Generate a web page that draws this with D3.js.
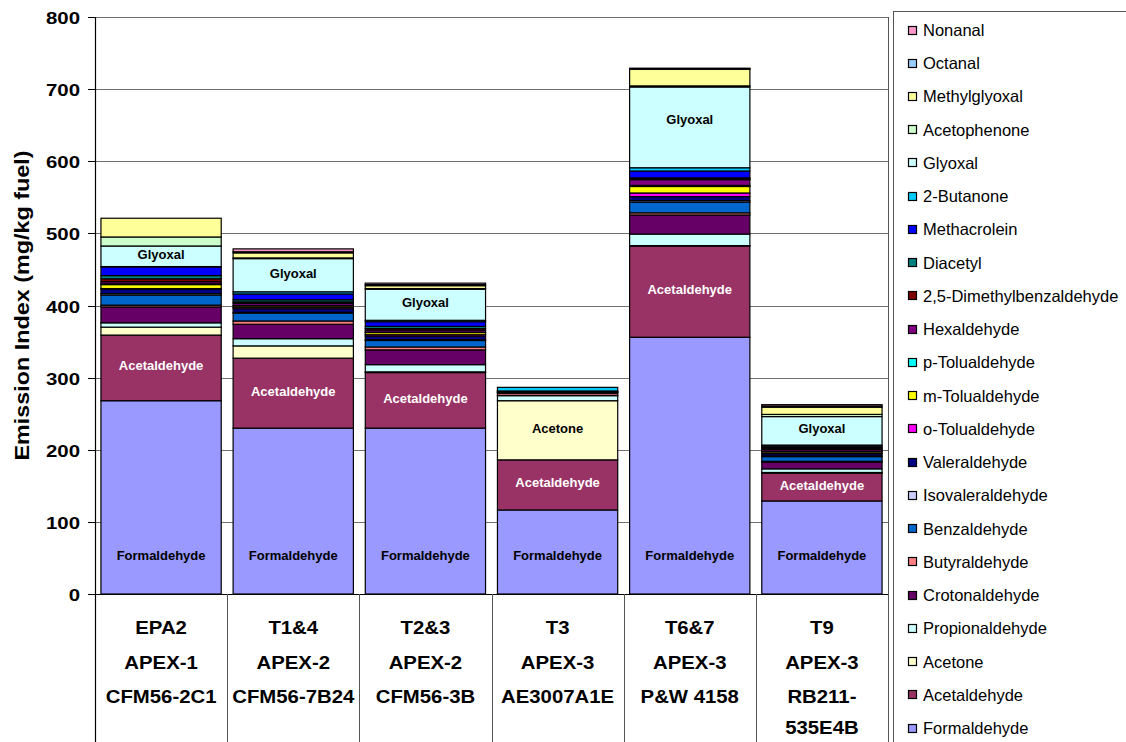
<!DOCTYPE html>
<html>
<head>
<meta charset="utf-8">
<script src="https://cdn.jsdelivr.net/npm/d3@7"></script>
<style>
  body { margin: 0; background: #fff; }
  svg { display: block; }
  text { font-family: "Liberation Sans", Arial, sans-serif; }
</style>
</head>
<body>
<svg id="chart" width="1126" height="742"></svg>
<script>
// Test identifiers, campaigns and engines for each column
const tests = ["EPA2", "T1&4", "T2&3", "T3", "T6&7", "T9"];
const campaigns = ["APEX-1", "APEX-2", "APEX-2", "APEX-3", "APEX-3", "APEX-3"];
const engines = [["CFM56-2C1"], ["CFM56-7B24"], ["CFM56-3B"], ["AE3007A1E"], ["P&W 4158"], ["RB211-", "535E4B"]];

// Emission indices (mg/kg fuel), one value per test, stacked bottom to top
const formaldehyde         = [268, 230, 230, 116.5, 356, 129];
const acetaldehyde         = [91, 97, 77, 69.5, 126.5, 38.5];
const acetone              = [11, 17, 1, 82, 0.5, 1];
const propionaldehyde      = [6, 10, 10, 7, 16, 5];
const crotonaldehyde       = [22, 20, 20.5, 0.5, 26.5, 9.5];
const butyraldehyde        = [2.5, 4.5, 4, 3, 3, 1];
const benzaldehyde         = [14, 11, 9, 1, 15, 6.5];
const isovaleraldehyde     = [2, 1, 1, 0.5, 2, 1];
const valeraldehyde        = [6, 5, 5, 1, 5.5, 3];
const oTolualdehyde        = [1, 2, 2, 0, 5, 1];
const mTolualdehyde        = [5.5, 2, 3, 0, 9, 2];
const pTolualdehyde        = [1, 0.5, 0.5, 0, 1.5, 0.5];
const hexaldehyde          = [3, 3, 3, 0.5, 8, 2.5];
const dimethylbenzaldehyde = [4, 2, 2, 0, 1, 1];
const diacetyl             = [4.5, 3, 3, 0, 1.5, 1.5];
const methacrolein         = [12, 8, 6.5, 0, 9.5, 2];
const butanone             = [0.5, 3, 2, 5, 4.5, 1.5];
const glyoxal              = [28.5, 46, 43, 0, 112, 39.5];
const acetophenone         = [12.5, 1, 1, 0, 1.5, 3];
const methylglyoxal        = [26, 7, 4, 0, 23, 10];
const octanal              = [0, 1.5, 1.5, 0, 1, 1.5];
const nonanal              = [0, 4, 2, 0, 0.5, 2];

const seriesNames = ["Formaldehyde", "Acetaldehyde", "Acetone", "Propionaldehyde", "Crotonaldehyde",
  "Butyraldehyde", "Benzaldehyde", "Isovaleraldehyde", "Valeraldehyde", "o-Tolualdehyde",
  "m-Tolualdehyde", "p-Tolualdehyde", "Hexaldehyde", "2,5-Dimethylbenzaldehyde", "Diacetyl",
  "Methacrolein", "2-Butanone", "Glyoxal", "Acetophenone", "Methylglyoxal", "Octanal", "Nonanal"];
const seriesValues = [formaldehyde, acetaldehyde, acetone, propionaldehyde, crotonaldehyde,
  butyraldehyde, benzaldehyde, isovaleraldehyde, valeraldehyde, oTolualdehyde,
  mTolualdehyde, pTolualdehyde, hexaldehyde, dimethylbenzaldehyde, diacetyl,
  methacrolein, butanone, glyoxal, acetophenone, methylglyoxal, octanal, nonanal];
const seriesColors = ["#9999FF", "#993366", "#FFFFCC", "#CCFFFF", "#660066",
  "#FF8080", "#0066CC", "#CCCCFF", "#000080", "#FF00FF",
  "#FFFF00", "#00FFFF", "#800080", "#800000", "#008080",
  "#0000FF", "#00CCFF", "#CCFFFF", "#CCFFCC", "#FFFF99", "#99CCFF", "#FF99CC"];

// Segments that carry a name inside the bar
const labelled = [
  { series: "Formaldehyde", tests: tests, color: "#000" },
  { series: "Acetaldehyde", tests: tests, color: "#fff" },
  { series: "Acetone", tests: ["T3"], color: "#000" },
  { series: "Glyoxal", tests: ["EPA2", "T1&4", "T2&3", "T6&7", "T9"], color: "#000" }
];

const yTicks = [0, 100, 200, 300, 400, 500, 600, 700, 800];

const svg = d3.select("#chart");
const W = 1126, H = 742;
const plot = { left: 95, right: 888, top: 17, bottom: 594 };

const rows = tests.map((t, i) => {
  const r = { test: t };
  seriesNames.forEach((s, j) => { r[s] = seriesValues[j][i]; });
  return r;
});
const stacked = d3.stack().keys(seriesNames)(rows);
const color = d3.scaleOrdinal().domain(seriesNames).range(seriesColors);

const x = d3.scaleBand().domain(tests).range([plot.left, plot.right]).paddingInner(0).paddingOuter(0);
const y = d3.scaleLinear().domain([0, 800]).range([plot.bottom, plot.top]);
const inset = x.bandwidth() * 0.045;
const barW = x.bandwidth() - 2 * inset;

// horizontal gridlines
svg.append("g").selectAll("line").data(yTicks.filter(d => d > 0)).join("line")
  .attr("x1", plot.left).attr("x2", plot.right)
  .attr("y1", d => Math.round(y(d)) + 0.5).attr("y2", d => Math.round(y(d)) + 0.5)
  .attr("stroke", "#6f6f6f").attr("stroke-width", 1);

// stacked bars
const layer = svg.append("g").selectAll("g").data(stacked).join("g")
  .attr("fill", d => color(d.key));
layer.selectAll("rect").data(d => d.filter(p => p[1] - p[0] > 0)).join("rect")
  .attr("x", d => x(d.data.test) + inset)
  .attr("width", barW)
  .attr("y", d => y(d[1]))
  .attr("height", d => y(d[0]) - y(d[1]))
  .attr("stroke", "#000").attr("stroke-width", 1.2);

// names inside segments
const labelG = svg.append("g");
labelled.forEach(l => {
  const sIdx = seriesNames.indexOf(l.series);
  l.tests.forEach(t => {
    const seg = stacked[sIdx][tests.indexOf(t)];
    const top = y(seg[1]), bottom = y(seg[0]);
    let cy;
    if (l.series === "Formaldehyde") cy = y(0) - 39;
    else if (l.series === "Glyoxal" && bottom - top > 60) cy = top + (bottom - top) * 0.4;
    else cy = (top + bottom) / 2 - 2;
    labelG.append("text")
      .attr("x", x(t) + x.bandwidth() / 2)
      .attr("y", cy)
      .attr("dy", "0.35em")
      .attr("text-anchor", "middle")
      .attr("font-size", 13).attr("font-weight", "bold")
      .attr("fill", l.color)
      .text(l.series);
  });
});

// y axis line and ticks
svg.append("line").attr("x1", plot.left + 0.5).attr("x2", plot.left + 0.5)
  .attr("y1", plot.top).attr("y2", H).attr("stroke", "#000").attr("stroke-width", 1.2);
const yAxis = svg.append("g");
yTicks.forEach(v => {
  const yy = Math.round(y(v)) + 0.5;
  yAxis.append("line").attr("x1", plot.left - 7).attr("x2", plot.left).attr("y1", yy).attr("y2", yy)
    .attr("stroke", "#000");
  yAxis.append("text")
    .attr("transform", `translate(${plot.left - 15},${yy}) scale(1.2,1)`)
    .attr("dy", "0.36em").attr("text-anchor", "end")
    .attr("font-size", 17).attr("font-weight", "bold").text(v);
});

// x axis baseline and column separators
svg.append("line").attr("x1", plot.left).attr("x2", plot.right)
  .attr("y1", plot.bottom + 0.5).attr("y2", plot.bottom + 0.5).attr("stroke", "#000").attr("stroke-width", 1.2);
const bounds = tests.map(t => x(t) + x.bandwidth());
svg.append("g").selectAll("line").data(bounds).join("line")
  .attr("x1", d => Math.round(d) + 0.5).attr("x2", d => Math.round(d) + 0.5)
  .attr("y1", plot.bottom).attr("y2", H)
  .attr("stroke", "#555").attr("stroke-width", 1);
svg.append("line").attr("x1", plot.right + 0.5).attr("x2", plot.right + 0.5)
  .attr("y1", plot.top).attr("y2", plot.bottom).attr("stroke", "#555");

// category labels (three or four lines)
const rowY = [627, 662, 696, 727];
const catG = svg.append("g").attr("font-size", 18.5).attr("font-weight", "bold").attr("text-anchor", "middle");
tests.forEach((t, i) => {
  const lines = [t, campaigns[i]].concat(engines[i]);
  lines.forEach((s, k) => {
    catG.append("text")
      .attr("transform", `translate(${x(t) + x.bandwidth() / 2},${rowY[k]}) scale(1.1,1)`)
      .attr("dy", "0.36em").text(s);
  });
});

// y axis title
svg.append("text")
  .attr("transform", `translate(22,${(plot.top + plot.bottom) / 2}) rotate(-90)`)
  .attr("text-anchor", "middle").attr("dy", "0.36em")
  .attr("font-size", 20).attr("font-weight", "bold")
  .attr("textLength", 310).attr("lengthAdjust", "spacingAndGlyphs")
  .text("Emission Index (mg/kg fuel)");

// legend
const legendX = 893, legendY = 11;
svg.append("rect").attr("x", legendX + 0.5).attr("y", legendY + 0.5)
  .attr("width", 300).attr("height", 800)
  .attr("fill", "#fff").attr("stroke", "#555");
const legendItems = seriesNames.slice().reverse();
const lg = svg.append("g");
const step = 33.24;
legendItems.forEach((s, i) => {
  const cy = 30 + i * step;
  lg.append("rect").attr("x", 908.5).attr("y", Math.round(cy - 4.5) + 0.5)
    .attr("width", 8).attr("height", 8)
    .attr("fill", color(s)).attr("stroke", "#000").attr("stroke-width", 1.2);
  lg.append("text").attr("x", 923).attr("y", cy).attr("dy", "0.36em")
    .attr("font-size", 16.5).text(s);
});
</script>
</body>
</html>
